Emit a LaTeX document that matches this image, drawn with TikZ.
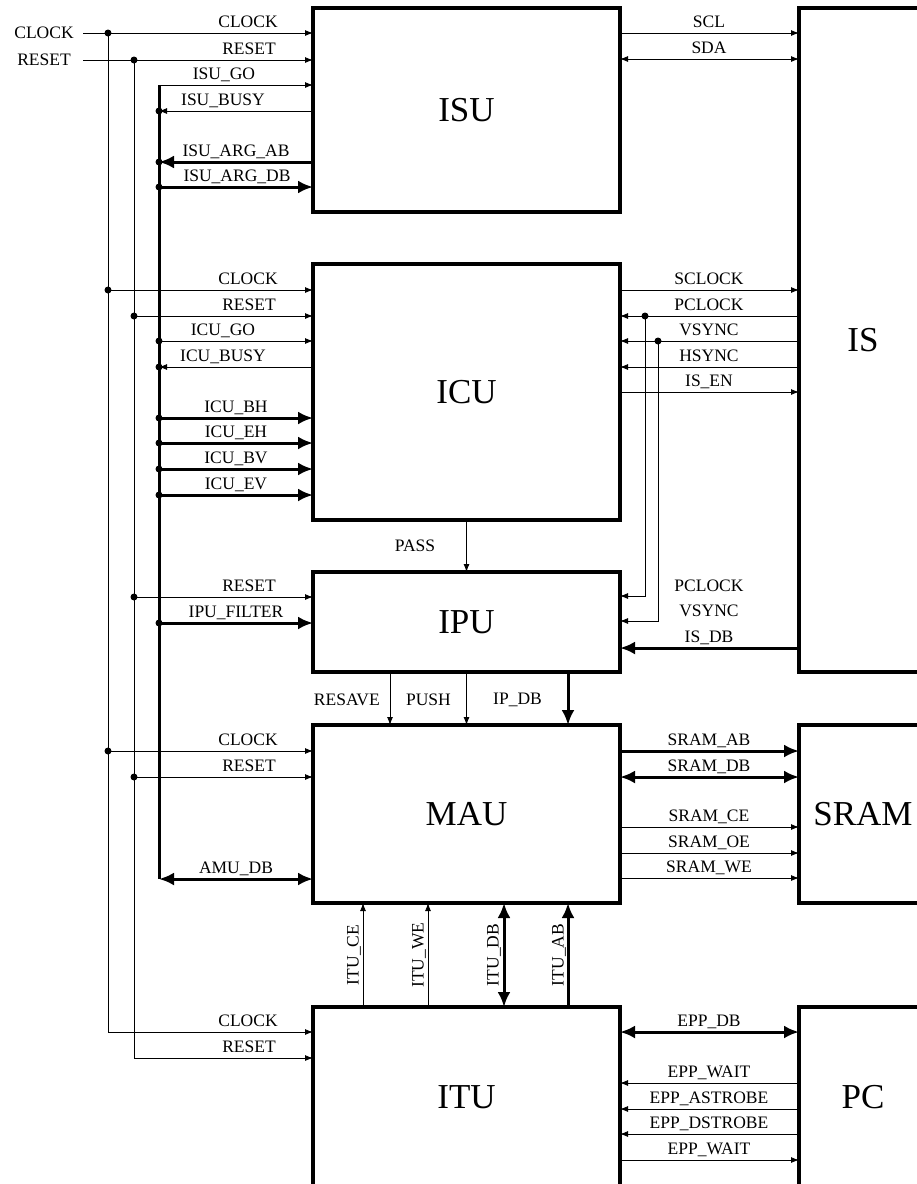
\documentclass[tikz,border=0pt]{standalone}
\usepackage{fontspec}
\setmainfont{Liberation Serif}
\usetikzlibrary{arrows.meta,positioning}

\begin{document}
\begin{tikzpicture}[
  x=1pt, y=-1pt,
  font=\fontsize{17.5}{18}\selectfont,
  unit/.style={draw, line width=3.2pt, outer sep=0pt, inner sep=0pt,
    minimum width=307pt, font=\fontsize{35}{36}\selectfont},
  periph/.style={unit, minimum width=128pt},
  sig/.style={line width=0.9pt, -{Latex[length=8pt,width=6pt]}},
  sigboth/.style={line width=0.9pt, {Latex[length=8pt,width=6pt]}-{Latex[length=8pt,width=6pt]}},
  bus/.style={line width=3pt, -{Latex[length=15pt,width=13pt]}},
  busboth/.style={line width=3pt, {Latex[length=15pt,width=13pt]}-{Latex[length=15pt,width=13pt]}},
  trunk/.style={line width=3pt},
  tag/.style={anchor=base, inner sep=0pt},
  vtag/.style={rotate=90, anchor=south, inner sep=0pt},
  dot/.style={circle, fill, inner sep=0pt, minimum size=7pt}
]
\useasboundingbox (0,0) rectangle (917,1184);
\clip (0,0) rectangle (917,1184);

\node[unit, minimum height=204pt] (isu) at (466.5,110) {ISU};
\node[unit, minimum height=256pt, below=52pt of isu] (icu) {ICU};
\node[unit, minimum height=100pt, below=52pt of icu] (ipu) {IPU};
\node[unit, minimum height=178pt, below=53pt of ipu] (mau) {MAU};
\node[unit, minimum height=180pt, below=104pt of mau] (itu) {ITU};
\node[periph, minimum height=664pt, right=179pt of isu.north east, anchor=north west] (is) {IS};
\node[periph, minimum height=178pt, right=179pt of mau] (sram) {SRAM};
\node[periph, minimum height=180pt, right=179pt of itu] (pc) {PC};

\node[inner sep=0pt] (clkin) at (44,33) {CLOCK};
\node[inner sep=0pt] (rstin) at (44,60) {RESET};
\coordinate (clkstart) at (83,33);
\coordinate (rststart) at (83,60);
\coordinate (clk) at (108,33);
\coordinate (rst) at (134,60);
\coordinate (dbus) at (159,85);

\draw[sig] (clkstart) -- (isu.west |- clkstart);
\draw[sig] (rststart) -- (isu.west |- rststart);
\draw[sig] (clk) |- (itu.west |- 0,1032);
\draw[sig] (rst) |- (itu.west |- 0,1058);
\draw[sig] (clk |- 0,290) -- (icu.west |- 0,290);
\draw[sig] (clk |- 0,751) -- (mau.west |- 0,751);
\draw[sig] (rst |- 0,316) -- (icu.west |- 0,316);
\draw[sig] (rst |- 0,597) -- (ipu.west |- 0,597);
\draw[sig] (rst |- 0,777) -- (mau.west |- 0,777);
\node[dot] (dclk1) at (clk) {};
\node[dot] (dclk2) at (clk |- 0,290) {};
\node[dot] (dclk3) at (clk |- 0,751) {};
\node[dot] (drst1) at (rst) {};
\node[dot] (drst2) at (rst |- 0,316) {};
\node[dot] (drst3) at (rst |- 0,597) {};
\node[dot] (drst4) at (rst |- 0,777) {};

\draw[trunk] (dbus) -- (dbus |- 0,879);
\draw[sig] (dbus) -- (isu.west |- dbus);
\draw[sig] (isu.west |- 0,111) -- (dbus |- 0,111);
\draw[bus] (isu.west |- 0,162) -- (dbus |- 0,162);
\draw[bus] (dbus |- 0,187) -- (isu.west |- 0,187);
\draw[sig] (dbus |- 0,341) -- (icu.west |- 0,341);
\draw[sig] (icu.west |- 0,367) -- (dbus |- 0,367);
\draw[bus] (dbus |- 0,418) -- (icu.west |- 0,418);
\draw[bus] (dbus |- 0,443) -- (icu.west |- 0,443);
\draw[bus] (dbus |- 0,469) -- (icu.west |- 0,469);
\draw[bus] (dbus |- 0,495) -- (icu.west |- 0,495);
\draw[bus] (dbus |- 0,623) -- (ipu.west |- 0,623);
\draw[busboth] (dbus |- 0,879) -- (mau.west |- 0,879);
\node[dot] (dbus1) at (dbus |- 0,111) {};
\node[dot] (dbus2) at (dbus |- 0,162) {};
\node[dot] (dbus3) at (dbus |- 0,187) {};
\node[dot] (dbus4) at (dbus |- 0,341) {};
\node[dot] (dbus5) at (dbus |- 0,367) {};
\node[dot] (dbus6) at (dbus |- 0,418) {};
\node[dot] (dbus7) at (dbus |- 0,443) {};
\node[dot] (dbus8) at (dbus |- 0,469) {};
\node[dot] (dbus9) at (dbus |- 0,495) {};
\node[dot] (dbus10) at (dbus |- 0,623) {};

\node[tag] (isuclk) at (248,27) {CLOCK};
\node[tag] (isurst) at (249,54) {RESET};
\node[tag] (isugo) at (224,79) {ISU\_GO};
\node[tag] (isubusy) at (223,105) {ISU\_BUSY};
\node[tag] (isuab) at (236,156) {ISU\_ARG\_AB};
\node[tag] (isudb) at (237,181) {ISU\_ARG\_DB};
\node[tag] (icuclk) at (248,284) {CLOCK};
\node[tag] (icurst) at (249,310) {RESET};
\node[tag] (icugo) at (223,335) {ICU\_GO};
\node[tag] (icubusy) at (223,361) {ICU\_BUSY};
\node[tag] (icubh) at (236,412) {ICU\_BH};
\node[tag] (icueh) at (236,437) {ICU\_EH};
\node[tag] (icubv) at (236,463) {ICU\_BV};
\node[tag] (icuev) at (236,489) {ICU\_EV};
\node[tag] (ipurst) at (249,591) {RESET};
\node[tag] (ipufilter) at (236,617) {IPU\_FILTER};
\node[tag] (mauclk) at (248,745) {CLOCK};
\node[tag] (maurst) at (249,771) {RESET};
\node[tag] (amudb) at (236,873) {AMU\_DB};
\node[tag] (ituclk) at (248,1026) {CLOCK};
\node[tag] (iturst) at (249,1052) {RESET};

\draw[sig] (isu.east |- 0,33) -- (is.west |- 0,33);
\draw[sigboth] (isu.east |- 0,59) -- (is.west |- 0,59);
\draw[sig] (icu.east |- 0,290) -- (is.west |- 0,290);
\draw[sig] (is.west |- 0,316) -- (icu.east |- 0,316);
\draw[sig] (is.west |- 0,341) -- (icu.east |- 0,341);
\draw[sig] (is.west |- 0,367) -- (icu.east |- 0,367);
\draw[sig] (icu.east |- 0,392) -- (is.west |- 0,392);
\node[dot] (dpclk) at (645,316) {};
\node[dot] (dvsync) at (658,341) {};
\draw[sig] (dpclk.center) |- (ipu.east |- 0,596);
\draw[sig] (dvsync.center) |- (ipu.east |- 0,621);
\draw[bus] (is.west |- 0,648) -- (ipu.east |- 0,648);

\node[tag] (scl) at (709,27) {SCL};
\node[tag] (sda) at (709,53) {SDA};
\node[tag] (sclock) at (709,284) {SCLOCK};
\node[tag] (pclock) at (709,310) {PCLOCK};
\node[tag] (vsync) at (709,335) {VSYNC};
\node[tag] (hsync) at (709,361) {HSYNC};
\node[tag] (isen) at (709,386) {IS\_EN};
\node[tag] (pclock2) at (709,591) {PCLOCK};
\node[tag] (vsync2) at (709,616) {VSYNC};
\node[tag] (isdb) at (709,642) {IS\_DB};

\draw[bus] (mau.east |- 0,751) -- (sram.west |- 0,751);
\draw[busboth] (mau.east |- 0,777) -- (sram.west |- 0,777);
\draw[sig] (mau.east |- 0,827) -- (sram.west |- 0,827);
\draw[sig] (mau.east |- 0,853) -- (sram.west |- 0,853);
\draw[sig] (mau.east |- 0,878) -- (sram.west |- 0,878);
\node[tag] (sramab) at (709,745) {SRAM\_AB};
\node[tag] (sramdb) at (709,771) {SRAM\_DB};
\node[tag] (sramce) at (709,821) {SRAM\_CE};
\node[tag] (sramoe) at (709,847) {SRAM\_OE};
\node[tag] (sramwe) at (709,872) {SRAM\_WE};

\draw[busboth] (itu.east |- 0,1032) -- (pc.west |- 0,1032);
\draw[sig] (pc.west |- 0,1083) -- (itu.east |- 0,1083);
\draw[sig] (pc.west |- 0,1109) -- (itu.east |- 0,1109);
\draw[sig] (pc.west |- 0,1134) -- (itu.east |- 0,1134);
\draw[sig] (itu.east |- 0,1160) -- (pc.west |- 0,1160);
\node[tag] (eppdb) at (709,1026) {EPP\_DB};
\node[tag] (eppwait) at (709,1077) {EPP\_WAIT};
\node[tag] (eppastrobe) at (709,1103) {EPP\_ASTROBE};
\node[tag] (eppdstrobe) at (709,1128) {EPP\_DSTROBE};
\node[tag] (eppwait2) at (709,1154) {EPP\_WAIT};

\draw[sig] (icu.south) -- (ipu.north);
\node[inner sep=0pt] (pass) at (415,546) {PASS};
\draw[sig] (ipu.south -| 390,0) -- (mau.north -| 390,0);
\draw[sig] (ipu.south) -- (mau.north);
\draw[bus] (ipu.south -| 568,0) -- (mau.north -| 568,0);
\node[anchor=east, inner sep=0pt] (resave) at (380,699.5) {RESAVE};
\node[inner sep=0pt] (push) at (428.5,699.5) {PUSH};
\node[inner sep=0pt] (ipdb) at (517.5,699.5) {IP\_DB};

\draw[sig] (itu.north -| 363,0) -- (mau.south -| 363,0);
\draw[sig] (itu.north -| 428,0) -- (mau.south -| 428,0);
\draw[busboth] (itu.north -| 504,0) -- (mau.south -| 504,0);
\draw[bus] (itu.north -| 568,0) -- (mau.south -| 568,0);
\node[vtag] (ituce) at (361,955) {ITU\_CE};
\node[vtag] (ituwe) at (426,955) {ITU\_WE};
\node[vtag] (itudb) at (501,955) {ITU\_DB};
\node[vtag] (ituab) at (566,955) {ITU\_AB};

\end{tikzpicture}
\end{document}
